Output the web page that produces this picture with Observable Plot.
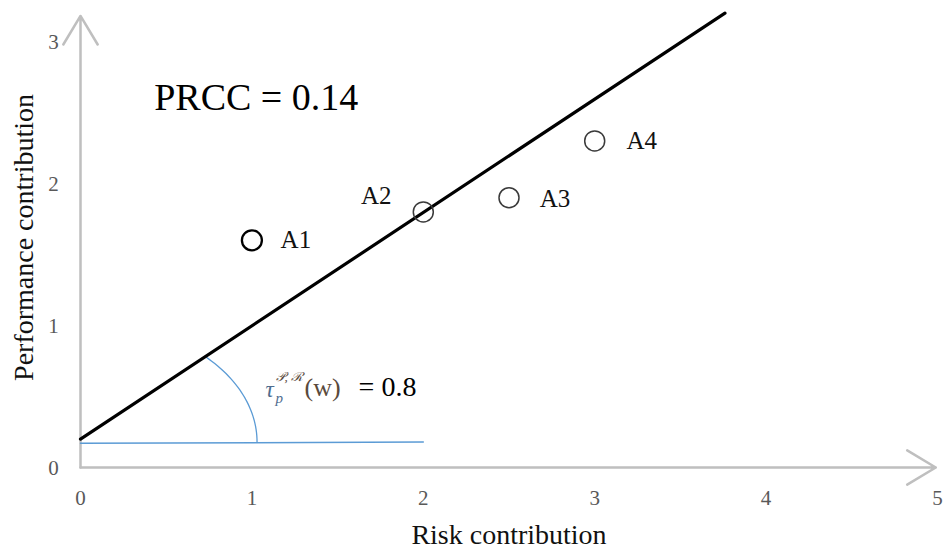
<!DOCTYPE html>
<html><head><meta charset="utf-8">
<script src="https://cdn.jsdelivr.net/npm/d3@7"></script>
<script src="https://cdn.jsdelivr.net/npm/@observablehq/plot@0.6"></script>
<style>
body{margin:0;background:#fff}
svg text{font-family:"Liberation Serif","Times New Roman",Times,"DejaVu Serif",serif !important;}
</style>
</head><body><div id="chart"></div>
<script>
// Data
const names = ["A1", "A2", "A3", "A4"];
const riskValues = [1, 2, 2.5, 3];
const perfValues = [1.6, 1.8, 1.9, 2.3];
const labelDx = [44, -47, 46, 47];
const labelDy = [0, -16, 1, 0];
const xTicks = [0, 1, 2, 3, 4, 5];
const yTicks = [0, 1, 2, 3];
const fitLine = [{x: 0, y: 0.2}, {x: 3.76, y: 3.2}];
const baseLine = [{x: 0, y: 0.17}, {x: 2, y: 0.18}];
const arcCenter = {x: 0, y: 0.18, rx: 1.03, ry: 0.85, endDeg: 45};
const prccText = "PRCC = 0.14";
const tauAnchor = {x: 1.08, y: 0.55};

const points = names.map((n, i) => ({name: n, x: riskValues[i], y: perfValues[i]}));
const arc = d3.range(0, arcCenter.endDeg + 0.1, 1.5).map(a => ({
  x: arcCenter.x + arcCenter.rx * Math.cos(a * Math.PI / 180),
  y: arcCenter.y + arcCenter.ry * Math.sin(a * Math.PI / 180)
}));

const gray = "#bfbfbf";
const T = (data, opts) => Plot.text(data, opts);

const labelMarks = points.map((p, i) =>
  T([p], {x: "x", y: "y", text: "name", fontSize: 25, fill: "#111", dx: labelDx[i], dy: labelDy[i]}));

const plot = Plot.plot({
  width: 948, height: 551,
  marginLeft: 80, marginRight: 11, marginTop: 41, marginBottom: 84,
  x: {domain: [0, 5], axis: null},
  y: {domain: [0, 3], axis: null},
  style: {background: "#fff", overflow: "visible"},
  marks: [
    Plot.arrow([{x1: 0, y1: 0, x2: 4.99, y2: 0}], {x1: "x1", y1: "y1", x2: "x2", y2: "y2", stroke: gray, strokeWidth: 2.5, headLength: 20, headAngle: 62, bend: 0}),
    Plot.arrow([{x1: 0, y1: 0, x2: 0, y2: 3.18}], {x1: "x1", y1: "y1", x2: "x2", y2: "y2", stroke: gray, strokeWidth: 2.5, headLength: 20, headAngle: 62, bend: 0}),
    T(xTicks, {x: d => d, y: 0, dy: 31, text: d => String(d), fontSize: 21, fill: "#595959"}),
    T(yTicks, {x: 0, y: d => d, dx: -27, dy: 1, text: d => String(d), fontSize: 21, fill: "#595959"}),
    T(["Risk contribution"], {x: 2.5, y: 0, dy: 68, text: d => d, fontSize: 28, fill: "#111"}),
    T(["Performance contribution"], {x: 0, y: 1.62, dx: -56, rotate: -90, text: d => d, fontSize: 28, fill: "#111"}),
    Plot.line(baseLine, {x: "x", y: "y", stroke: "#5b9bd5", strokeWidth: 1.5}),
    Plot.line(arc, {x: "x", y: "y", stroke: "#5b9bd5", strokeWidth: 1.3}),
    Plot.line(fitLine, {x: "x", y: "y", stroke: "#000", strokeWidth: 3.2}),
    Plot.dot(points.slice(0, 1), {x: "x", y: "y", r: 10, fill: "none", stroke: "#000", strokeWidth: 2.3}),
    Plot.dot(points.slice(1), {x: "x", y: "y", r: 10, fill: "none", stroke: "#3a3a3a", strokeWidth: 1.5}),
    ...labelMarks,
    T([prccText], {x: 0.43, y: 2.6, text: d => d, fontSize: 38, textAnchor: "start", fill: "#000"}),
    T(["τ"], {x: tauAnchor.x, y: tauAnchor.y, text: d => d, fontSize: 23, fontStyle: "italic", fill: "#4f6d8f", textAnchor: "start"}),
    T(["p"], {x: tauAnchor.x, y: tauAnchor.y, dx: 10, dy: 9, text: d => d, fontSize: 15, fontStyle: "italic", fill: "#4f6d8f", textAnchor: "start"}),
    T(["𝒫, ℛ"], {x: tauAnchor.x, y: tauAnchor.y, dx: 10, dy: -13, text: d => d, fontSize: 13, fontStyle: "italic", fill: "#5a4a3c", textAnchor: "start"}),
    T(["(w)"], {x: tauAnchor.x, y: tauAnchor.y, dx: 39, dy: -2, text: d => d, fontSize: 26, fill: "#5a4a3c", textAnchor: "start"}),
    T(["= 0.8"], {x: tauAnchor.x, y: tauAnchor.y, dx: 93, dy: -2, text: d => d, fontSize: 28, fill: "#000", textAnchor: "start"})
  ]
});
document.getElementById("chart").appendChild(plot);
</script>
</body></html>
